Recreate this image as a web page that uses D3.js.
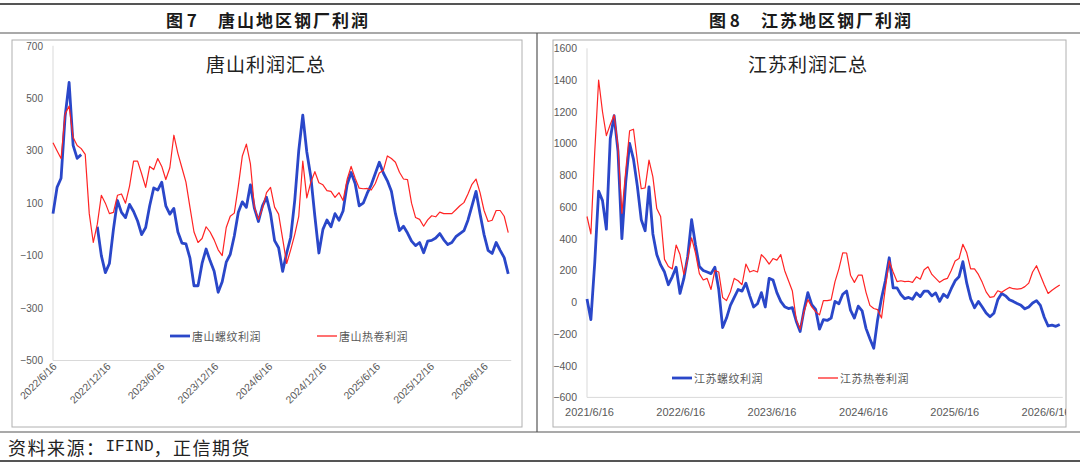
<!DOCTYPE html>
<html>
<head>
<meta charset="utf-8">
<script src="https://cdn.jsdelivr.net/npm/d3@7"></script>
<style>
  body { margin: 0; background: #fff; }
  svg { display: block; }
</style>
</head>
<body>
<svg id="chart" width="1080" height="465"></svg>
<script>
// 唐山: 螺纹 / 热卷 profit, one reading every 13.65 days from 2022/6/16 (null = no data)
const tsStart = '2022/6/16', tsStepDays = 13.65;
const tsRebar = [60,160,195,430,560,320,271,285,null,null,
  null,10,-100,-165,-130,0,110,65,45,95,
  68,32,-20,7,90,158,150,180,90,58,
  80,-10,-52,-55,-110,-215,-215,-130,-75,-120,
  -160,-240,-200,-125,-95,-25,65,105,84,170,
  80,30,90,122,60,-43,-70,-160,-90,-30,
  110,300,436,295,200,50,-90,0,36,10,
  60,35,70,170,217,175,90,100,138,170,
  213,256,215,185,145,60,-5,12,-14,-45,
  -62,-50,-89,-45,-42,-33,-16,-40,-58,-50,
  -28,-16,-5,35,90,145,60,-20,-80,-92,
  -50,-80,-108,-170];
const tsCoil = [330,300,270,440,470,350,320,308,286,60,
  -50,20,130,100,60,65,130,135,100,165,
  260,260,212,160,240,228,270,240,190,235,
  359,290,235,180,84,-10,-50,-35,10,-10,
  -40,-78,-100,7,50,62,165,280,325,250,
  85,38,80,140,160,85,58,-35,-130,-78,
  -20,50,260,120,180,220,178,170,148,145,
  122,140,110,190,240,195,157,155,156,150,
  175,215,225,280,270,256,218,192,190,100,
  45,38,12,36,52,48,66,60,60,60,
  75,90,102,135,172,192,140,72,30,35,
  72,72,50,-12];

// 江苏: one reading every 15.5 days from 2021/6/8
const jsStart = '2021/6/8', jsStepDays = 15.5;
const jsRebar = [20,-110,250,700,640,460,1030,1175,950,400,
  760,1000,900,730,520,450,726,430,300,235,
  190,110,160,220,55,150,290,520,360,225,
  200,190,180,220,80,-160,-100,-20,30,80,
  70,120,40,-30,-10,60,-30,150,140,60,
  5,-28,-40,-35,-120,-185,-50,60,-15,-45,
  -170,-110,-115,-100,5,-10,50,70,-50,-100,
  -25,-55,-165,-230,-290,-110,25,135,280,90,
  90,48,22,30,18,58,35,70,70,40,
  58,5,50,30,85,135,160,255,120,20,
  -35,5,-30,-68,-92,-70,15,55,40,15,
  5,-8,-20,-42,-30,-5,10,-20,-95,-150,
  -145,-152,-140];
const jsCoil = [540,430,950,1400,1200,1050,1120,1180,980,560,
  830,1080,1090,890,715,720,895,790,590,540,
  270,225,210,360,300,175,275,405,310,180,
  140,150,80,200,190,30,10,65,150,135,
  110,240,190,200,190,300,275,240,275,265,
  300,200,135,70,-110,-170,-60,16,-30,-60,
  -80,10,10,15,130,210,311,310,170,125,
  170,170,62,-20,-40,-47,-100,90,260,190,
  130,135,130,132,125,160,145,205,223,175,
  150,125,142,150,200,260,275,365,311,210,
  210,175,125,65,30,35,72,62,78,93,
  85,82,85,98,120,190,230,170,110,55,
  75,92,108];

const tsXTicks = ['2022/6/16','2022/12/16','2023/6/16','2023/12/16','2024/6/16',
  '2024/12/16','2025/6/16','2025/12/16','2026/6/16'];
const tsYTicks = [700, 500, 300, 100, -100, -300, -500];
const jsXTicks = ['2021/6/16','2022/6/16','2023/6/16','2024/6/16','2025/6/16','2026/6/16'];
const jsYTicks = [1600, 1400, 1200, 1000, 800, 600, 400, 200, 0, -200, -400, -600];

const seriesNames = { ts: ['唐山螺纹利润', '唐山热卷利润'], js: ['江苏螺纹利润', '江苏热卷利润'] };
const BLUE = '#2a47c9', RED = '#ff2424';
const CJK = '"Noto Sans CJK SC", "Noto Sans", sans-serif';
const LAT = '"Liberation Sans", Arial, sans-serif';

const parse = d3.timeParse('%Y/%m/%d');
const fmt = d3.timeFormat('%Y/%-m/%-d');
const DAY = 864e5;
const svg = d3.select('#chart');

function points(values, start, step) {
  const t0 = parse(start).getTime();
  return values.map((v, i) => ({ date: new Date(t0 + i * step * DAY), v }));
}

// table frame
const frame = svg.append('g').attr('stroke', '#555').attr('fill', 'none');
frame.append('line').attr('x1', 0).attr('x2', 1080).attr('y1', 4).attr('y2', 4).attr('stroke-width', 2);
frame.append('line').attr('x1', 0).attr('x2', 1080).attr('y1', 33).attr('y2', 33).attr('stroke-width', 1.2);
frame.append('line').attr('x1', 537).attr('x2', 537).attr('y1', 33).attr('y2', 432).attr('stroke-width', 1.2);
frame.append('line').attr('x1', 0).attr('x2', 1080).attr('y1', 432).attr('y2', 432).attr('stroke-width', 1.2);
frame.append('line').attr('x1', 0).attr('x2', 1080).attr('y1', 461).attr('y2', 461).attr('stroke-width', 2);

function header(numX, num, textX, text) {
  const g = svg.append('g').attr('font-family', CJK).attr('font-weight', 'bold')
    .attr('font-size', 17).attr('fill', '#1a1a1a');
  g.append('text').attr('x', numX).attr('y', 19).attr('dominant-baseline', 'central').text(num);
  g.append('text').attr('x', textX).attr('y', 19).attr('dominant-baseline', 'central')
    .attr('letter-spacing', 2).text(text);
}
header(166, '图 7', 218, '唐山地区钢厂利润');
header(709, '图 8', 761, '江苏地区钢厂利润');

const foot = svg.append('text').attr('x', 8).attr('y', 447).attr('dominant-baseline', 'central')
  .attr('fill', '#222').attr('font-size', 18).attr('font-family', CJK);
foot.append('tspan').attr('letter-spacing', 1.5).text('资料来源：');
foot.append('tspan').attr('font-family', '"Liberation Mono", monospace').attr('font-size', 16).text('IFIND');
foot.append('tspan').attr('letter-spacing', 1.5).text('，正信期货');

function panel(o) {
  const g = svg.append('g');
  g.append('rect').attr('x', o.box[0]).attr('y', o.box[1])
    .attr('width', o.box[2] - o.box[0]).attr('height', o.box[3] - o.box[1])
    .attr('fill', '#fff').attr('stroke', '#b0b0b0').attr('stroke-width', 1);

  const x = d3.scaleTime().domain([parse(o.xTicks[0]), parse(o.xTicks[o.xTicks.length - 1])]).range(o.xRange);
  const y = d3.scaleLinear().domain([o.yTicks[o.yTicks.length - 1], o.yTicks[0]]).range(o.yRange);
  const a = points(o.rebar, o.start, o.step);
  const b = points(o.coil, o.start, o.step);
  const x1 = x(a[a.length - 1].date) + 3;
  const yBottom = y(o.yTicks[o.yTicks.length - 1]);

  // axis lines
  g.append('line').attr('x1', o.axisX).attr('x2', o.axisX).attr('y1', y(o.yTicks[0])).attr('y2', yBottom)
    .attr('stroke', '#d9d9d9');
  g.append('line').attr('x1', o.axisX).attr('x2', x1).attr('y1', yBottom).attr('y2', yBottom)
    .attr('stroke', '#d9d9d9');

  const yAxis = g.append('g').attr('transform', `translate(${o.yLabelX},0)`)
    .call(d3.axisLeft(y).tickValues(o.yTicks).tickFormat(d3.format('d')).tickSize(0).tickPadding(0));
  yAxis.select('.domain').remove();
  yAxis.selectAll('text').attr('font-family', LAT).attr('font-size', o.yFont).attr('fill', '#595959');

  const clipId = 'clip-' + o.key;
  svg.append('clipPath').attr('id', clipId).append('rect')
    .attr('x', o.box[0]).attr('y', o.box[1]).attr('width', o.box[2] - o.box[0]).attr('height', o.box[3] - o.box[1]);

  const xAxis = g.append('g').attr('clip-path', `url(#${clipId})`)
    .append('g').attr('transform', `translate(0,${o.xLabelY})`)
    .call(d3.axisBottom(x).tickValues(o.xTicks.map(parse)).tickFormat(fmt).tickSize(0).tickPadding(0));
  xAxis.select('.domain').remove();
  xAxis.selectAll('text').attr('font-family', LAT).attr('font-size', o.xFont).attr('fill', '#595959');
  if (o.rotate) {
    xAxis.selectAll('.tick text').attr('text-anchor', 'end').attr('dy', 0).attr('y', 0)
      .attr('transform', 'translate(4,0) rotate(-45)');
  } else {
    xAxis.selectAll('.tick text').attr('dy', '0.35em').attr('y', 0);
  }

  const line = d3.line().defined(d => d.v != null).x(d => x(d.date)).y(d => y(d.v));
  g.append('path').datum(a).attr('d', line).attr('fill', 'none')
    .attr('stroke', BLUE).attr('stroke-width', 2.8).attr('stroke-linejoin', 'round');
  g.append('path').datum(b).attr('d', line).attr('fill', 'none')
    .attr('stroke', RED).attr('stroke-width', 1.2).attr('stroke-linejoin', 'round');

  g.append('text').attr('x', o.titleX).attr('y', 63).attr('text-anchor', 'middle')
    .attr('dominant-baseline', 'central').attr('font-family', CJK).attr('font-size', 19)
    .attr('letter-spacing', 1).attr('fill', '#222').text(o.title);

  const leg = g.append('g').attr('font-family', CJK).attr('font-size', 11).attr('fill', '#595959');
  [[BLUE, 2.8], [RED, 1.3]].forEach(([c, w], i) => {
    const lx = o.legendX[i];
    leg.append('line').attr('x1', lx).attr('x2', lx + 20).attr('y1', o.legendY).attr('y2', o.legendY)
      .attr('stroke', c).attr('stroke-width', w);
    leg.append('text').attr('x', lx + 22).attr('y', o.legendY).attr('dominant-baseline', 'central')
      .attr('letter-spacing', 0.5).text(o.names[i]);
  });
}

panel({
  key: 'ts', box: [12, 40, 522, 427], title: '唐山利润汇总', titleX: 266,
  start: tsStart, step: tsStepDays, rebar: tsRebar, coil: tsCoil,
  xTicks: tsXTicks, yTicks: tsYTicks, xRange: [53, 484.2], yRange: [360.5, 45.8],
  axisX: 53, yLabelX: 43, yFont: 10, xFont: 10.5, xLabelY: 367, rotate: true,
  names: seriesNames.ts, legendX: [170, 317], legendY: 336
});
panel({
  key: 'js', box: [553, 40, 1066, 427], title: '江苏利润汇总', titleX: 808,
  start: jsStart, step: jsStepDays, rebar: jsRebar, coil: jsCoil,
  xTicks: jsXTicks, yTicks: jsYTicks, xRange: [589, 1045.5], yRange: [397.4, 48.3],
  axisX: 587, yLabelX: 577, yFont: 10.5, xFont: 11, xLabelY: 412, rotate: false,
  names: seriesNames.js, legendX: [672, 818], legendY: 378
});
</script>
</body>
</html>
